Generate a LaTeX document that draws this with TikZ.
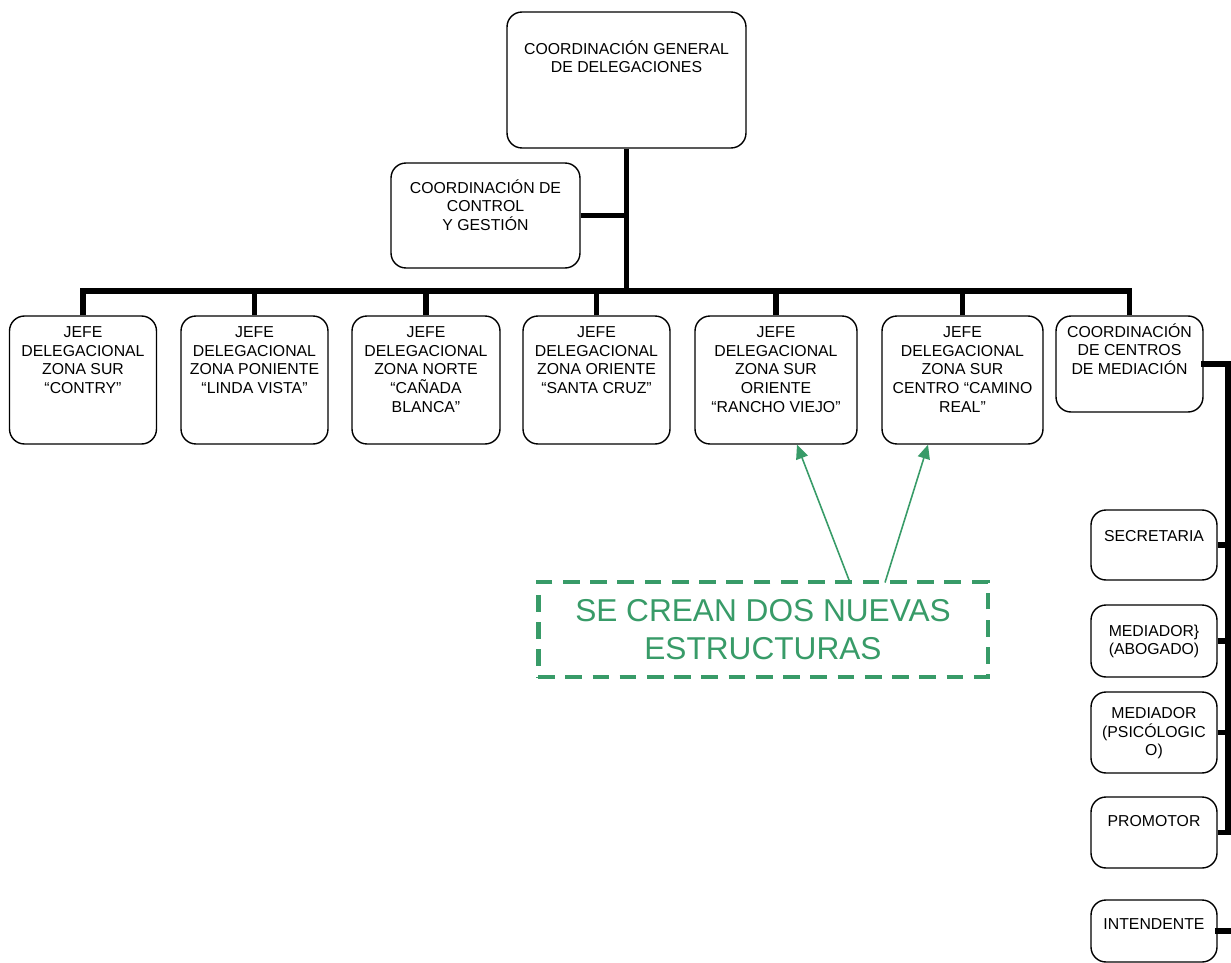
\documentclass[tikz,border=0pt]{standalone}
\usepackage{fontspec}
\setmainfont{Liberation Sans}
\usepackage{xcolor}
\usetikzlibrary{positioning,calc,arrows.meta}
\definecolor{notegreen}{RGB}{56,155,104}

\begin{document}
\begin{tikzpicture}[x=0.02cm, y=-0.02cm,
    unit/.style={draw, line width=0.8pt, rounded corners=8.5pt, inner sep=0pt},
    head/.style={anchor=north, align=center, inner sep=0pt, font=\fontsize{9}{10.6}\selectfont},
    link/.style={line width=3.4pt},
  ]
    \useasboundingbox (0,0) rectangle (1231,963);

    \node[unit, minimum width=4.78cm, minimum height=2.72cm] (gen) at (626.5,80) {}; % General
    \node[head] at ($(gen.north)+(0,29)$) {COORDINACIÓN GENERAL\\DE DELEGACIONES};

    \node[unit, minimum width=3.78cm, minimum height=2.1cm] (ctrl) at (485.5,215.5) {}; % Control
    \node[head] at ($(ctrl.north)+(0,17)$) {COORDINACIÓN DE\\CONTROL\\Y GESTIÓN};

    \coordinate (hub) at (gen.south |- 0,291);
    \draw[link] (gen) -- (hub); % Trunk
    \draw[link] (ctrl) -- (ctrl -| hub);

    % Delegations
    \foreach \n/\x/\w/\txt in {
        j1/83/2.94/{JEFE\\DELEGACIONAL\\ZONA SUR\\“CONTRY”},
        j2/254.5/2.94/{JEFE\\DELEGACIONAL\\ZONA PONIENTE\\“LINDA VISTA”},
        j3/426/2.96/{JEFE\\DELEGACIONAL\\ZONA NORTE\\“CAÑADA\\BLANCA”},
        j4/596.5/2.94/{JEFE\\DELEGACIONAL\\ZONA ORIENTE\\“SANTA CRUZ”},
        j5/776/3.24/{JEFE\\DELEGACIONAL\\ZONA SUR\\ORIENTE\\“RANCHO VIEJO”},
        j6/962.5/3.22/{JEFE\\DELEGACIONAL\\ZONA SUR\\CENTRO “CAMINO\\REAL”}} {
      \node[unit, minimum width=\w cm, minimum height=2.56cm] (\n) at (\x,380) {};
      \node[head] at ($(\n.north)+(0,11)$) {\txt};
      \draw[link] (\n) -- (\n |- hub);
    }

    \node[unit, minimum width=2.94cm, minimum height=1.92cm] (med) at (1129.5,364) {}; % Mediation
    \node[head] at ($(med.north)+(0,8)$) {COORDINACIÓN\\DE CENTROS\\DE MEDIACIÓN};
    \draw[link] (med) -- (med |- hub);

    \draw[link, line cap=rect] (j1 |- hub) -- (med |- hub); % Bar

    % Mediation staff
    \foreach \n/\y/\h/\d/\txt in {
        sec/545/1.4/21/{SECRETARIA},
        abog/641/1.44/20/{MEDIADOR\}\\(ABOGADO)},
        psic/732.5/1.62/16/{MEDIADOR\\(PSICÓLOGIC\\O)},
        prom/832.5/1.42/19/{PROMOTOR},
        intd/931/1.24/19/{INTENDENTE}} {
      \node[unit, minimum width=2.52cm, minimum height=\h cm] (\n) at (1154,\y) {};
      \node[head] at ($(\n.north)+(0,\d)$) {\txt};
    }

    \coordinate (rail) at (1228,364);
    \draw[link, line cap=rect] (med) -- (rail) -- (rail |- prom); % Rail
    \foreach \n in {sec,abog,psic,prom}
      \draw[link] (\n) -- (\n -| rail);
    \draw[link, line cap=rect] (intd) -- (intd -| rail);

    % Note
    \node[draw=notegreen, line width=2.8pt, dash pattern=on 9.5pt off 6pt,
          minimum width=9cm, minimum height=1.9cm, align=center, text=notegreen,
          font=\fontsize{18}{21.5}\selectfont] (note) at (763,629.5)
          {SE CREAN DOS NUEVAS\\ESTRUCTURAS};
    \draw[-{Triangle[length=8pt,width=7pt]}, notegreen, line width=0.9pt]
      ($(note.north)+(87,3)$) -- ($(j5.south)+(21,0)$);
    \draw[-{Triangle[length=8pt,width=7pt]}, notegreen, line width=0.9pt]
      ($(note.north)+(122,3)$) -- ($(j6.south)+(-34.5,0)$);
\end{tikzpicture}
\end{document}
